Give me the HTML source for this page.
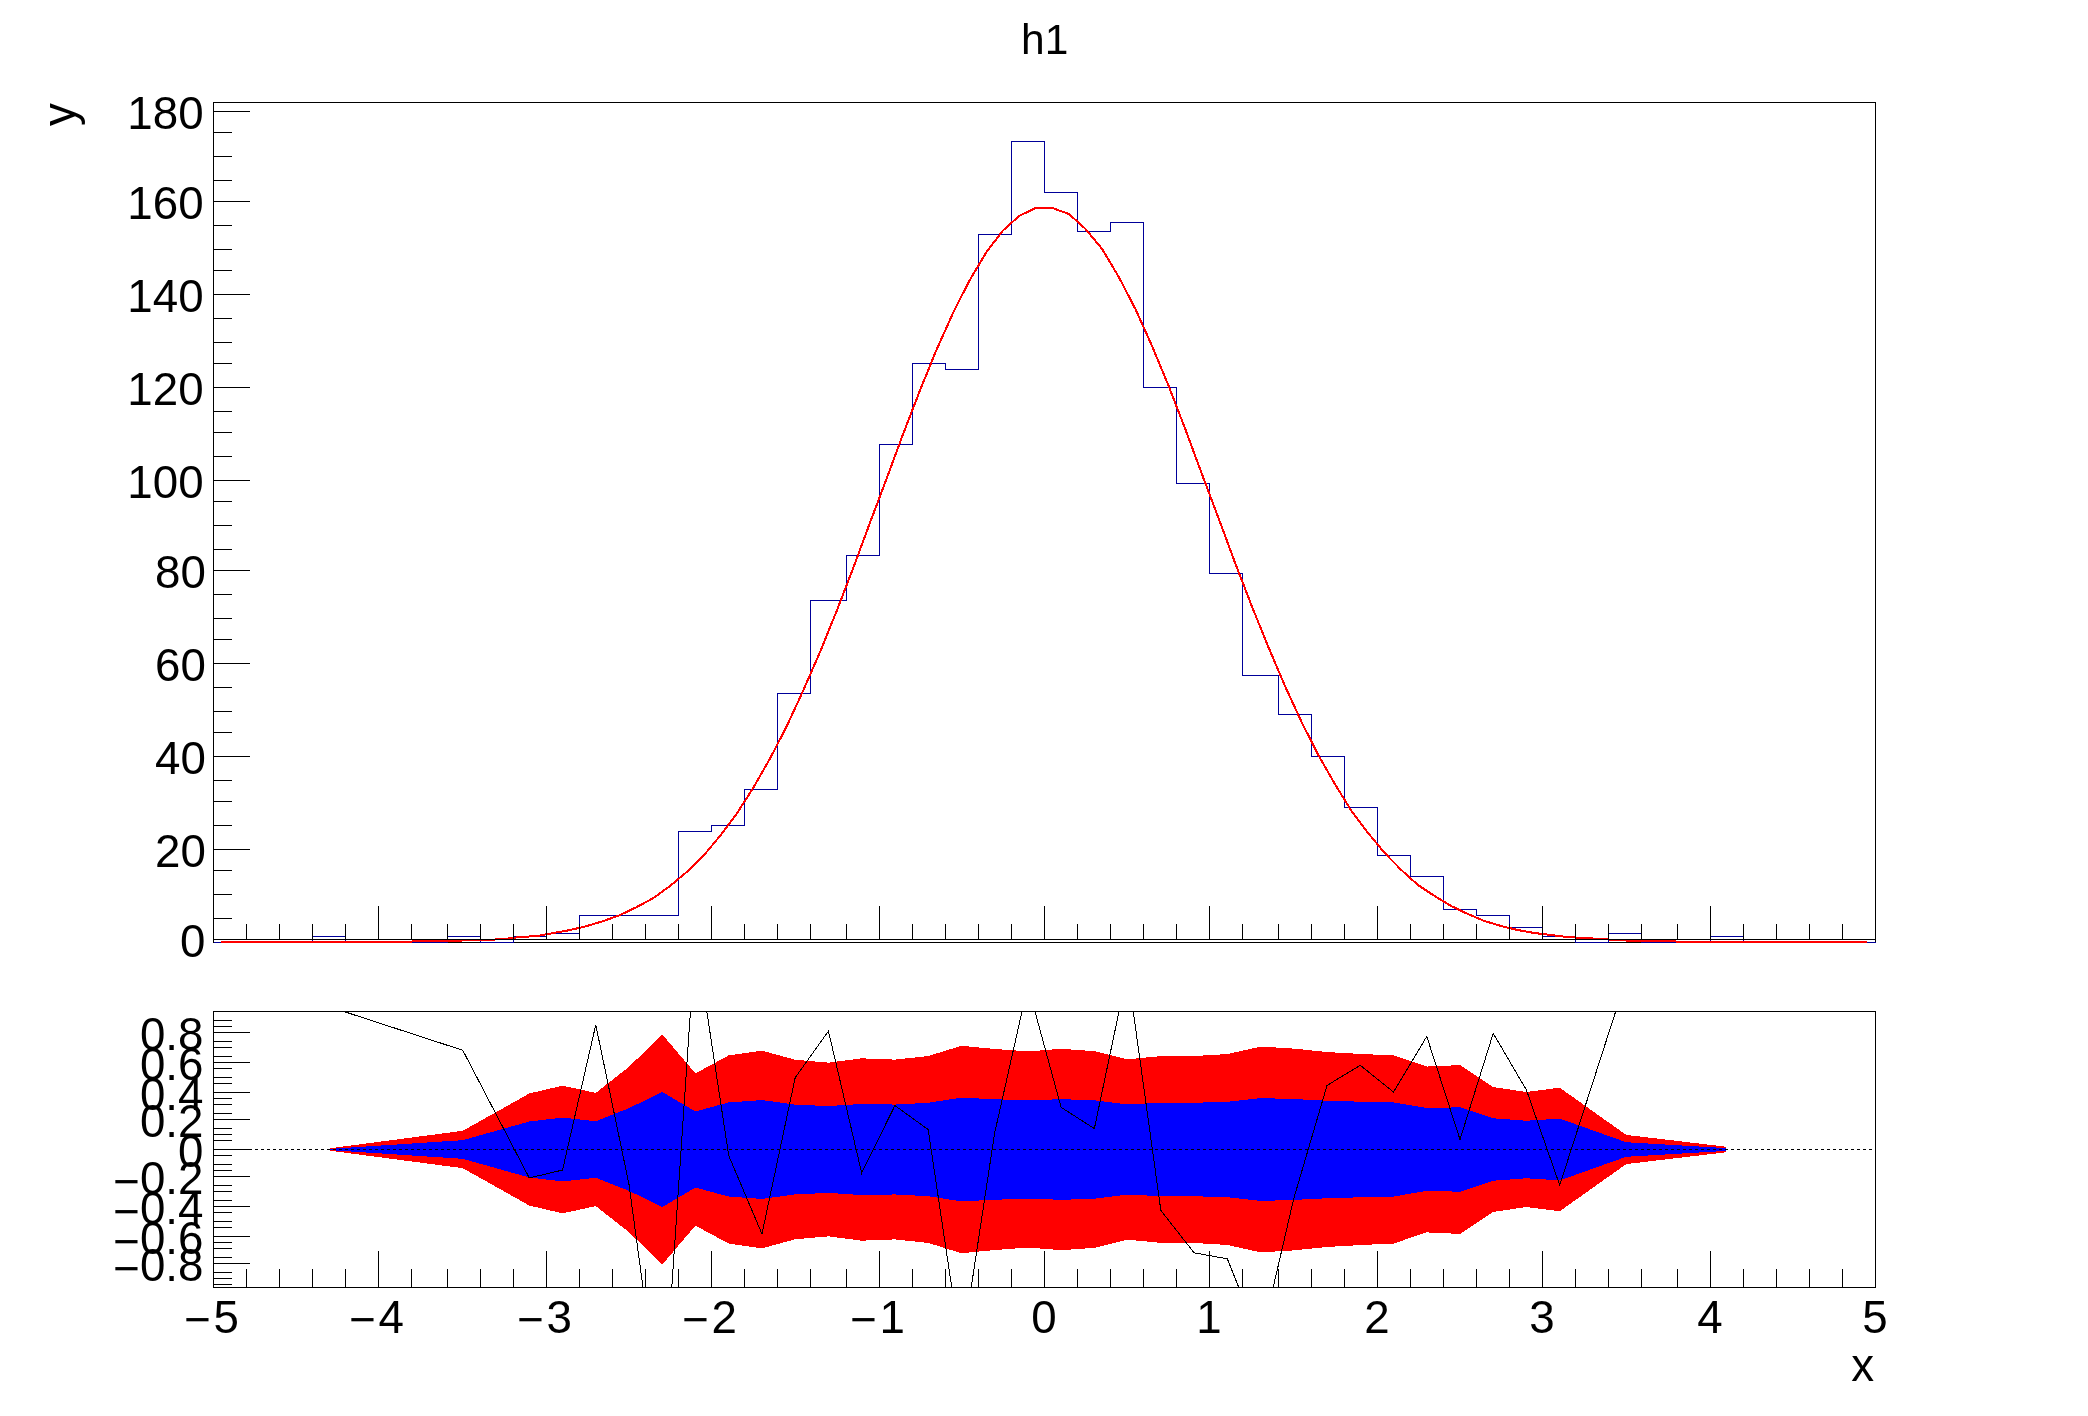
<!DOCTYPE html><html><head><meta charset="utf-8"><style>html,body{margin:0;padding:0;background:#fff}svg{display:block;will-change:transform}text{font-family:"Liberation Sans",Arial,sans-serif;fill:#000}</style></head><body>
<svg width="2088" height="1416" viewBox="0 0 2088 1416" shape-rendering="crispEdges">
<rect width="2088" height="1416" fill="#fff"/>
<text x="1021" y="54" font-size="42.5">h1</text>
<g shape-rendering="crispEdges">
<path d="M213.5 102.5H1875.5V942.5H213.5Z" fill="none" stroke="#000" stroke-width="1"/>
<path d="M213.5 942.5V942.5H246.5V942.5H279.5V942.5H312.5V936.5H345.5V942.5H378.5V942.5H411.5V942.5H447.5V936.5H480.5V942.5H513.5V936.5H546.5V933.5H579.5V915.5H612.5V915.5H645.5V915.5H678.5V831.5H711.5V825.5H744.5V789.5H777.5V693.5H810.5V600.5H846.5V555.5H879.5V444.5H912.5V363.5H945.5V369.5H978.5V234.5H1011.5V141.5H1044.5V192.5H1077.5V231.5H1110.5V222.5H1143.5V387.5H1176.5V483.5H1209.5V573.5H1242.5V675.5H1278.5V714.5H1311.5V756.5H1344.5V807.5H1377.5V855.5H1410.5V876.5H1443.5V909.5H1476.5V915.5H1509.5V927.5H1542.5V936.5H1575.5V942.5H1608.5V933.5H1641.5V942.5H1677.5V942.5H1710.5V936.5H1743.5V942.5H1776.5V942.5H1809.5V942.5H1842.5V942.5H1875.5V942.5" fill="none" stroke="#000099" stroke-width="1"/>
</g>
<polyline points="221.31,942 237.93,942 254.55,942 271.17,942 287.79,942 304.41,942 321.03,942 337.65,942 354.27,942 370.89,942 387.51,942 404.13,942 420.75,941 437.37,941 453.99,941 470.61,940 487.23,940 503.85,939 520.47,937 537.09,936 553.71,933 570.33,930 586.95,926 603.57,921 620.19,915 636.81,907 653.43,898 670.05,886 686.67,872 703.29,856 719.91,836 736.53,814 753.15,788 769.77,759 786.39,727 803.01,691 819.63,653 836.25,612 852.87,569 869.49,524 886.11,480 902.73,435 919.35,392 935.97,351 952.59,314 969.21,281 985.83,253 1002.45,231 1019.07,216 1035.69,208 1052.31,208 1068.93,214 1085.55,229 1102.17,249 1118.79,277 1135.41,309 1152.03,346 1168.65,386 1185.27,429 1201.89,474 1218.51,518 1235.13,563 1251.75,606 1268.37,647 1284.99,686 1301.61,722 1318.23,755 1334.85,784 1351.47,811 1368.09,833 1384.71,853 1401.33,870 1417.95,885 1434.57,896 1451.19,906 1467.81,914 1484.43,921 1501.05,926 1517.67,930 1534.29,933 1550.91,935 1567.53,937 1584.15,938 1600.77,939 1617.39,940 1634.01,941 1650.63,941 1667.25,941 1683.87,942 1700.49,942 1717.11,942 1733.73,942 1750.35,942 1766.97,942 1783.59,942 1800.21,942 1816.83,942 1833.45,942 1850.07,942 1866.69,942" fill="none" stroke="#f00" stroke-width="2" stroke-linejoin="round"/>
<g shape-rendering="crispEdges" stroke="#000" stroke-width="1">
<path d="M213 939.5H1876"/>
<path d="M246.5 924V939"/>
<path d="M279.5 924V939"/>
<path d="M312.5 924V939"/>
<path d="M345.5 924V939"/>
<path d="M378.5 906V939"/>
<path d="M411.5 924V939"/>
<path d="M447.5 924V939"/>
<path d="M480.5 924V939"/>
<path d="M513.5 924V939"/>
<path d="M546.5 906V939"/>
<path d="M579.5 924V939"/>
<path d="M612.5 924V939"/>
<path d="M645.5 924V939"/>
<path d="M678.5 924V939"/>
<path d="M711.5 906V939"/>
<path d="M744.5 924V939"/>
<path d="M777.5 924V939"/>
<path d="M810.5 924V939"/>
<path d="M846.5 924V939"/>
<path d="M879.5 906V939"/>
<path d="M912.5 924V939"/>
<path d="M945.5 924V939"/>
<path d="M978.5 924V939"/>
<path d="M1011.5 924V939"/>
<path d="M1044.5 906V939"/>
<path d="M1077.5 924V939"/>
<path d="M1110.5 924V939"/>
<path d="M1143.5 924V939"/>
<path d="M1176.5 924V939"/>
<path d="M1209.5 906V939"/>
<path d="M1242.5 924V939"/>
<path d="M1278.5 924V939"/>
<path d="M1311.5 924V939"/>
<path d="M1344.5 924V939"/>
<path d="M1377.5 906V939"/>
<path d="M1410.5 924V939"/>
<path d="M1443.5 924V939"/>
<path d="M1476.5 924V939"/>
<path d="M1509.5 924V939"/>
<path d="M1542.5 906V939"/>
<path d="M1575.5 924V939"/>
<path d="M1608.5 924V939"/>
<path d="M1641.5 924V939"/>
<path d="M1677.5 924V939"/>
<path d="M1710.5 906V939"/>
<path d="M1743.5 924V939"/>
<path d="M1776.5 924V939"/>
<path d="M1809.5 924V939"/>
<path d="M1842.5 924V939"/>
<path d="M213 939.5H250"/>
<path d="M213 918.5H232"/>
<path d="M213 894.5H232"/>
<path d="M213 870.5H232"/>
<path d="M213 849.5H250"/>
<path d="M213 825.5H232"/>
<path d="M213 801.5H232"/>
<path d="M213 780.5H232"/>
<path d="M213 756.5H250"/>
<path d="M213 732.5H232"/>
<path d="M213 711.5H232"/>
<path d="M213 687.5H232"/>
<path d="M213 663.5H250"/>
<path d="M213 639.5H232"/>
<path d="M213 618.5H232"/>
<path d="M213 594.5H232"/>
<path d="M213 570.5H250"/>
<path d="M213 549.5H232"/>
<path d="M213 525.5H232"/>
<path d="M213 501.5H232"/>
<path d="M213 480.5H250"/>
<path d="M213 456.5H232"/>
<path d="M213 432.5H232"/>
<path d="M213 411.5H232"/>
<path d="M213 387.5H250"/>
<path d="M213 363.5H232"/>
<path d="M213 342.5H232"/>
<path d="M213 318.5H232"/>
<path d="M213 294.5H250"/>
<path d="M213 270.5H232"/>
<path d="M213 249.5H232"/>
<path d="M213 225.5H232"/>
<path d="M213 201.5H250"/>
<path d="M213 180.5H232"/>
<path d="M213 156.5H232"/>
<path d="M213 132.5H232"/>
<path d="M213 111.5H250"/>
</g>
<text x="205.5" y="957" font-size="45.7" text-anchor="end">0</text>
<text x="205.9" y="867" font-size="45.7" text-anchor="end">20</text>
<text x="205.9" y="774" font-size="45.7" text-anchor="end">40</text>
<text x="205.9" y="681" font-size="45.7" text-anchor="end">60</text>
<text x="205.9" y="588" font-size="45.7" text-anchor="end">80</text>
<text x="203.6" y="498" font-size="45.7" text-anchor="end">100</text>
<text x="203.6" y="405" font-size="45.7" text-anchor="end">120</text>
<text x="203.6" y="312" font-size="45.7" text-anchor="end">140</text>
<text x="203.6" y="219" font-size="45.7" text-anchor="end">160</text>
<text x="203.6" y="129" font-size="45.7" text-anchor="end">180</text>
<text transform="translate(75.1,103.2) rotate(-90)" font-size="45.7" text-anchor="end">y</text>
<defs><clipPath id="lc"><rect x="214" y="1012" width="1661" height="275"/></clipPath></defs>
<g clip-path="url(#lc)"><polygon points="329.84,1148.31 462.80,1130.81 529.28,1093.48 562.52,1085.65 595.76,1092.91 629.00,1066.80 662.24,1034.48 695.48,1073.37 728.72,1055.38 761.96,1050.65 795.20,1059.70 828.44,1062.67 861.68,1058.34 894.92,1059.61 928.16,1056.09 961.40,1045.80 994.64,1048.94 1027.88,1051.42 1061.12,1048.83 1094.36,1051.13 1127.60,1059.32 1160.84,1056.13 1194.08,1056.00 1227.32,1054.06 1260.56,1046.63 1293.80,1048.58 1327.04,1052.07 1360.28,1053.91 1393.52,1055.49 1426.76,1066.59 1460.00,1065.10 1493.24,1087.09 1526.48,1091.99 1559.72,1087.69 1626.20,1134.91 1725.92,1146.69 1725.92,1152.31 1626.20,1164.09 1559.72,1211.31 1526.48,1207.01 1493.24,1211.91 1460.00,1233.90 1426.76,1232.41 1393.52,1243.51 1360.28,1245.09 1327.04,1246.93 1293.80,1250.42 1260.56,1252.37 1227.32,1244.94 1194.08,1243.00 1160.84,1242.87 1127.60,1239.68 1094.36,1247.87 1061.12,1250.17 1027.88,1247.58 994.64,1250.06 961.40,1253.20 928.16,1242.91 894.92,1239.39 861.68,1240.66 828.44,1236.33 795.20,1239.30 761.96,1248.35 728.72,1243.62 695.48,1225.63 662.24,1264.52 629.00,1232.20 595.76,1206.09 562.52,1213.35 529.28,1205.52 462.80,1168.19 329.84,1150.69" fill="#f00"/><polygon points="329.84,1148.90 462.80,1140.16 529.28,1121.49 562.52,1117.58 595.76,1121.21 629.00,1108.15 662.24,1091.99 695.48,1111.43 728.72,1102.44 761.96,1100.07 795.20,1104.60 828.44,1106.09 861.68,1103.92 894.92,1104.56 928.16,1102.79 961.40,1097.65 994.64,1099.22 1027.88,1100.46 1061.12,1099.17 1094.36,1100.31 1127.60,1104.41 1160.84,1102.82 1194.08,1102.75 1227.32,1101.78 1260.56,1098.07 1293.80,1099.04 1327.04,1100.78 1360.28,1101.70 1393.52,1102.50 1426.76,1108.04 1460.00,1107.30 1493.24,1118.29 1526.48,1120.75 1559.72,1118.59 1626.20,1142.21 1725.92,1148.10 1725.92,1150.90 1626.20,1156.79 1559.72,1180.41 1526.48,1178.25 1493.24,1180.71 1460.00,1191.70 1426.76,1190.96 1393.52,1196.50 1360.28,1197.30 1327.04,1198.22 1293.80,1199.96 1260.56,1200.93 1227.32,1197.22 1194.08,1196.25 1160.84,1196.18 1127.60,1194.59 1094.36,1198.69 1061.12,1199.83 1027.88,1198.54 994.64,1199.78 961.40,1201.35 928.16,1196.21 894.92,1194.44 861.68,1195.08 828.44,1192.91 795.20,1194.40 761.96,1198.93 728.72,1196.56 695.48,1187.57 662.24,1207.01 629.00,1190.85 595.76,1177.79 562.52,1181.42 529.28,1177.51 462.80,1158.84 329.84,1150.10" fill="#00f"/></g>
<path d="M213 1149.5H1875" stroke="#000" stroke-width="1" stroke-dasharray="3 3" shape-rendering="crispEdges"/>
<g clip-path="url(#lc)"><polyline points="329.84,1006.93 462.80,1050.30 529.28,1177.95 562.52,1170.05 595.76,1024.88 629.00,1184.42 662.24,1428.80 695.48,936.81 728.72,1155.60 761.96,1233.91 795.20,1077.66 828.44,1031.10 861.68,1173.06 894.92,1105.56 928.16,1129.54 961.40,1351.94 994.64,1133.06 1027.88,985.55 1061.12,1107.35 1094.36,1128.59 1127.60,970.69 1160.84,1210.44 1194.08,1252.79 1227.32,1258.79 1260.56,1341.65 1293.80,1198.41 1327.04,1085.42 1360.28,1065.31 1393.52,1092.09 1426.76,1036.43 1460.00,1139.51 1493.24,1033.34 1526.48,1090.15 1559.72,1185.29 1626.20,978.73 1725.92,1009.75" fill="none" stroke="#000" stroke-width="1"/></g>
<g shape-rendering="crispEdges" stroke="#000" stroke-width="1">
<path d="M213.5 1011.5H1875.5V1287.5H213.5Z" fill="none"/>
<path d="M246.5 1269V1287"/>
<path d="M279.5 1269V1287"/>
<path d="M312.5 1269V1287"/>
<path d="M345.5 1269V1287"/>
<path d="M378.5 1251V1287"/>
<path d="M411.5 1269V1287"/>
<path d="M447.5 1269V1287"/>
<path d="M480.5 1269V1287"/>
<path d="M513.5 1269V1287"/>
<path d="M546.5 1251V1287"/>
<path d="M579.5 1269V1287"/>
<path d="M612.5 1269V1287"/>
<path d="M645.5 1269V1287"/>
<path d="M678.5 1269V1287"/>
<path d="M711.5 1251V1287"/>
<path d="M744.5 1269V1287"/>
<path d="M777.5 1269V1287"/>
<path d="M810.5 1269V1287"/>
<path d="M846.5 1269V1287"/>
<path d="M879.5 1251V1287"/>
<path d="M912.5 1269V1287"/>
<path d="M945.5 1269V1287"/>
<path d="M978.5 1269V1287"/>
<path d="M1011.5 1269V1287"/>
<path d="M1044.5 1251V1287"/>
<path d="M1077.5 1269V1287"/>
<path d="M1110.5 1269V1287"/>
<path d="M1143.5 1269V1287"/>
<path d="M1176.5 1269V1287"/>
<path d="M1209.5 1251V1287"/>
<path d="M1242.5 1269V1287"/>
<path d="M1278.5 1269V1287"/>
<path d="M1311.5 1269V1287"/>
<path d="M1344.5 1269V1287"/>
<path d="M1377.5 1251V1287"/>
<path d="M1410.5 1269V1287"/>
<path d="M1443.5 1269V1287"/>
<path d="M1476.5 1269V1287"/>
<path d="M1509.5 1269V1287"/>
<path d="M1542.5 1251V1287"/>
<path d="M1575.5 1269V1287"/>
<path d="M1608.5 1269V1287"/>
<path d="M1641.5 1269V1287"/>
<path d="M1677.5 1269V1287"/>
<path d="M1710.5 1251V1287"/>
<path d="M1743.5 1269V1287"/>
<path d="M1776.5 1269V1287"/>
<path d="M1809.5 1269V1287"/>
<path d="M1842.5 1269V1287"/>
<path d="M213 1284.5H232"/>
<path d="M213 1278.5H232"/>
<path d="M213 1272.5H232"/>
<path d="M213 1263.5H250"/>
<path d="M213 1257.5H232"/>
<path d="M213 1248.5H232"/>
<path d="M213 1242.5H232"/>
<path d="M213 1236.5H250"/>
<path d="M213 1227.5H232"/>
<path d="M213 1221.5H232"/>
<path d="M213 1212.5H232"/>
<path d="M213 1206.5H250"/>
<path d="M213 1200.5H232"/>
<path d="M213 1191.5H232"/>
<path d="M213 1185.5H232"/>
<path d="M213 1176.5H250"/>
<path d="M213 1170.5H232"/>
<path d="M213 1164.5H232"/>
<path d="M213 1155.5H232"/>
<path d="M213 1149.5H250"/>
<path d="M213 1140.5H232"/>
<path d="M213 1134.5H232"/>
<path d="M213 1128.5H232"/>
<path d="M213 1119.5H250"/>
<path d="M213 1113.5H232"/>
<path d="M213 1104.5H232"/>
<path d="M213 1098.5H232"/>
<path d="M213 1092.5H250"/>
<path d="M213 1083.5H232"/>
<path d="M213 1077.5H232"/>
<path d="M213 1068.5H232"/>
<path d="M213 1062.5H250"/>
<path d="M213 1056.5H232"/>
<path d="M213 1047.5H232"/>
<path d="M213 1041.5H232"/>
<path d="M213 1032.5H250"/>
<path d="M213 1026.5H232"/>
<path d="M213 1020.5H232"/>
</g>
<text x="203.4" y="1281" font-size="45.7" text-anchor="end"><tspan dy="2.5">−</tspan><tspan dy="-2.5">0.8</tspan></text>
<text x="203.4" y="1254" font-size="45.7" text-anchor="end"><tspan dy="2.5">−</tspan><tspan dy="-2.5">0.6</tspan></text>
<text x="203.4" y="1224" font-size="45.7" text-anchor="end"><tspan dy="2.5">−</tspan><tspan dy="-2.5">0.4</tspan></text>
<text x="203.4" y="1194" font-size="45.7" text-anchor="end"><tspan dy="2.5">−</tspan><tspan dy="-2.5">0.2</tspan></text>
<text x="203.4" y="1167" font-size="45.7" text-anchor="end">0</text>
<text x="203.4" y="1137" font-size="45.7" text-anchor="end">0.2</text>
<text x="203.4" y="1110" font-size="45.7" text-anchor="end">0.4</text>
<text x="203.4" y="1080" font-size="45.7" text-anchor="end">0.6</text>
<text x="203.4" y="1050" font-size="45.7" text-anchor="end">0.8</text>
<text x="211.5" y="1332.5" font-size="45.7" text-anchor="middle"><tspan dy="2.5">−</tspan><tspan dy="-2.5" dx="2.5">5</tspan></text>
<text x="376.5" y="1332.5" font-size="45.7" text-anchor="middle"><tspan dy="2.5">−</tspan><tspan dy="-2.5" dx="2.5">4</tspan></text>
<text x="544.5" y="1332.5" font-size="45.7" text-anchor="middle"><tspan dy="2.5">−</tspan><tspan dy="-2.5" dx="2.5">3</tspan></text>
<text x="709.5" y="1332.5" font-size="45.7" text-anchor="middle"><tspan dy="2.5">−</tspan><tspan dy="-2.5" dx="2.5">2</tspan></text>
<text x="877.5" y="1332.5" font-size="45.7" text-anchor="middle"><tspan dy="2.5">−</tspan><tspan dy="-2.5" dx="2.5">1</tspan></text>
<text x="1044" y="1332.5" font-size="45.7" text-anchor="middle">0</text>
<text x="1209" y="1332.5" font-size="45.7" text-anchor="middle">1</text>
<text x="1377" y="1332.5" font-size="45.7" text-anchor="middle">2</text>
<text x="1542" y="1332.5" font-size="45.7" text-anchor="middle">3</text>
<text x="1710" y="1332.5" font-size="45.7" text-anchor="middle">4</text>
<text x="1875" y="1332.5" font-size="45.7" text-anchor="middle">5</text>
<text x="1874" y="1380.5" font-size="45.7" text-anchor="end">x</text>
</svg></body></html>
